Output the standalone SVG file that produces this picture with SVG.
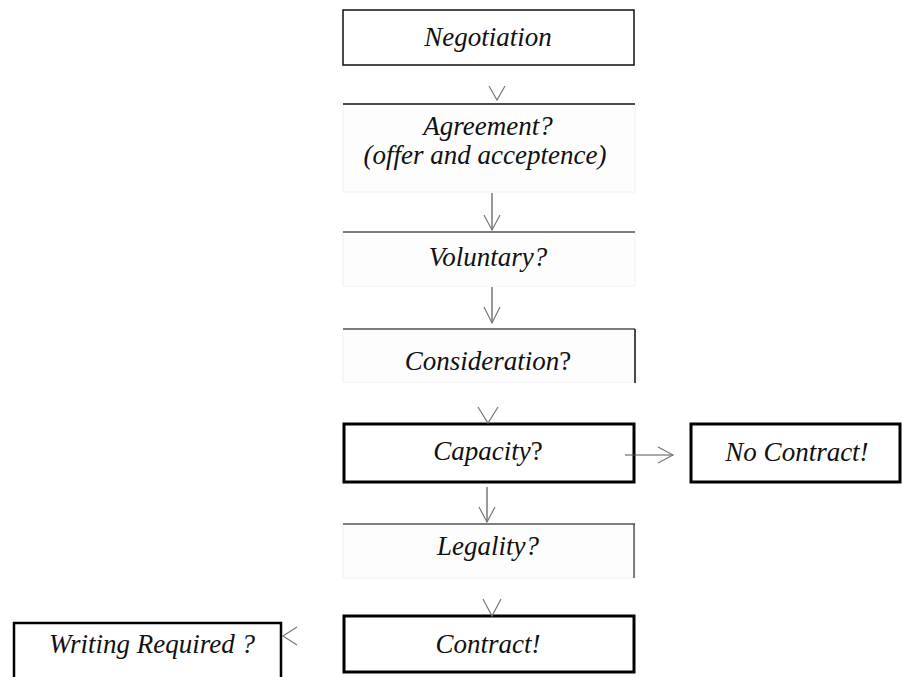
<svg xmlns="http://www.w3.org/2000/svg" width="903" height="677" viewBox="0 0 903 677">
<style>
text{font-family:"Liberation Serif","Times New Roman",serif;font-size:27px;font-style:italic;fill:#111;text-anchor:middle}
.up{font-style:normal}
.thin{fill:#fff;stroke:#111;stroke-width:1.5}
.thick{fill:#fff;stroke:#000;stroke-width:3}
.soft{fill:#fdfdfd;stroke:#f0f0f0;stroke-width:1}
.top{stroke:#555;stroke-width:1.5}
.edge{stroke:#111;stroke-width:1.5}
.conn line,.conn polyline{fill:none;stroke:#777;stroke-width:1.2}
.conn .shaft{stroke:#555}
</style>
<g id="negotiation">
<rect class="thin" x="343" y="10" width="291" height="55"/>
<text x="488" y="46">Negotiation</text>
</g>
<g id="agreement">
<rect class="soft" x="343" y="104" width="292" height="88"/>
<line class="edge" x1="343" y1="104" x2="635" y2="104"/>
<text x="488" y="135">Agreement?</text>
<text x="485" y="164">(offer and acceptence)</text>
</g>
<g id="voluntary">
<rect class="soft" x="343" y="232" width="292" height="54"/>
<line class="top" x1="343" y1="232" x2="635" y2="232"/>
<text x="488" y="266">Voluntary?</text>
</g>
<g id="consideration">
<rect class="soft" x="343" y="329" width="292" height="53"/>
<line class="top" x1="343" y1="329" x2="635" y2="329"/>
<line class="edge" x1="635" y1="329" x2="635" y2="383"/>
<text x="488" y="370">Consideration<tspan class="up">?</tspan></text>
</g>
<g id="capacity">
<rect class="thick" x="344" y="424" width="290" height="58"/>
<text x="488" y="460">Capacity<tspan class="up">?</tspan></text>
</g>
<g id="no-contract">
<rect class="thick" x="691" y="424" width="209" height="58"/>
<text x="797" y="461">No Contract!</text>
</g>
<g id="legality">
<rect class="soft" x="343" y="524" width="292" height="54"/>
<line class="top" x1="343" y1="524" x2="635" y2="524"/>
<line class="top" x1="634" y1="524" x2="634" y2="578"/>
<text x="488" y="555">Legality?</text>
</g>
<g id="contract">
<rect class="thick" x="344" y="616" width="290" height="56"/>
<text x="488" y="653">Contract!</text>
</g>
<g id="writing-required">
<path d="M14 680 V623 H281 V680" fill="#fff" stroke="#000" stroke-width="2.5"/>
<text x="152" y="653">Writing Required ?</text>
</g>
<g class="conn" id="connectors">
<polyline points="489,86 497,100 505,86"/>
<line class="shaft" x1="492" y1="193" x2="492" y2="230"/>
<polyline points="484,215 492,230 500,215"/>
<line class="shaft" x1="492" y1="287" x2="492" y2="323"/>
<polyline points="484,307 492,323 500,307"/>
<polyline points="478,407 488,423 498,407"/>
<line class="shaft" x1="487" y1="487" x2="487" y2="522"/>
<polyline points="479,507 487,522 495,507"/>
<polyline points="483,599 492,616 501,599"/>
<line class="shaft" x1="625" y1="455" x2="673" y2="455"/>
<polyline points="658,447 673,455 658,463"/>
<polyline points="297,627 283,636 297,645"/>
</g>
</svg>
